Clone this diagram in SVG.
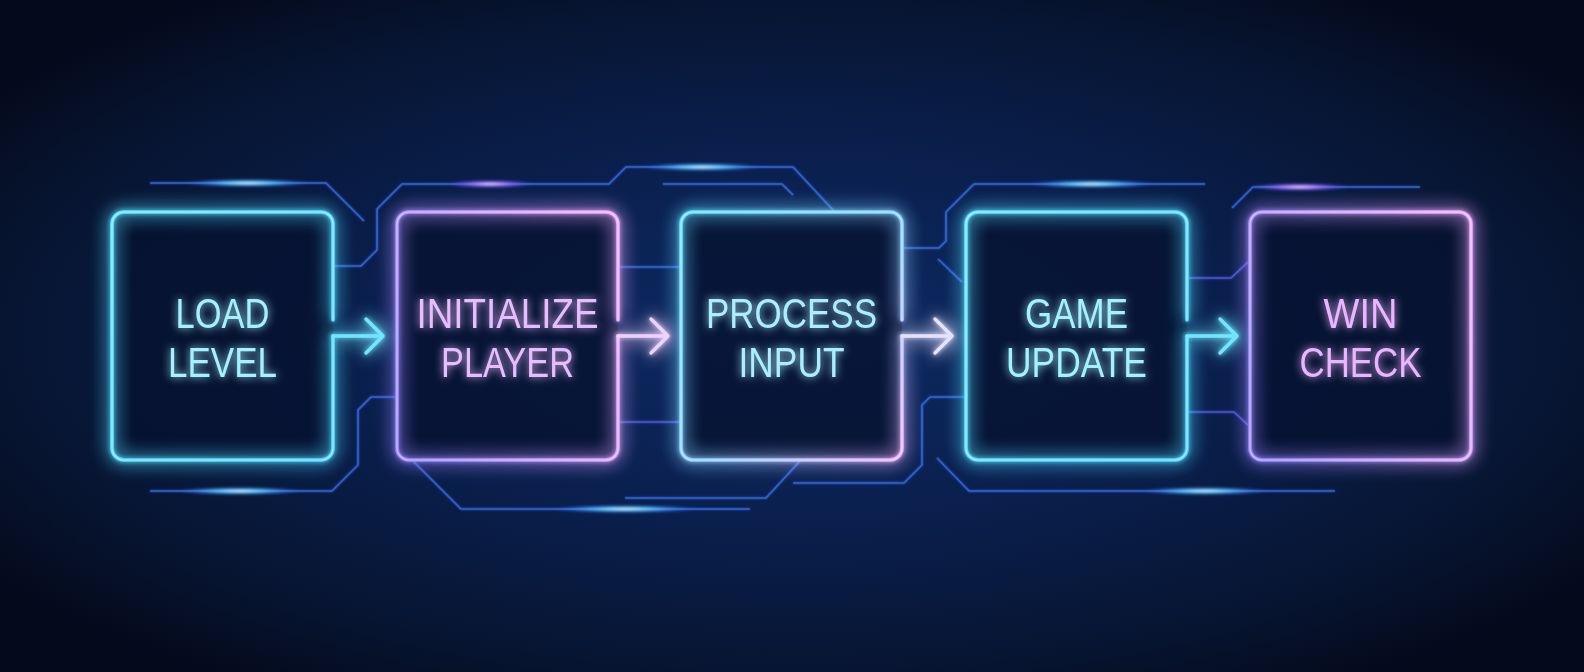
<svg xmlns="http://www.w3.org/2000/svg" width="1584" height="672" viewBox="0 0 1584 672">
<defs>
  <radialGradient id="bg" cx="0.5" cy="0.5" r="0.62">
    <stop offset="0" stop-color="#0d2a62"/>
    <stop offset="0.45" stop-color="#0a1f4d"/>
    <stop offset="0.8" stop-color="#071532"/>
    <stop offset="1" stop-color="#040a1c"/>
  </radialGradient>
  <linearGradient id="gCyan" x1="0" y1="0" x2="1" y2="1">
    <stop offset="0" stop-color="#5fe2ff"/>
    <stop offset="1" stop-color="#52d6ff"/>
  </linearGradient>
  <linearGradient id="gViolet" x1="0" y1="0.7" x2="1" y2="0.3">
    <stop offset="0" stop-color="#9a88ff"/>
    <stop offset="0.5" stop-color="#c49cff"/>
    <stop offset="1" stop-color="#eaa8ff"/>
  </linearGradient>
  <linearGradient id="gMix" x1="0" y1="0" x2="1" y2="1">
    <stop offset="0" stop-color="#62e0ff"/>
    <stop offset="0.55" stop-color="#8ccfff"/>
    <stop offset="1" stop-color="#eab0ff"/>
  </linearGradient>
  <radialGradient id="hotCyan">
    <stop offset="0" stop-color="#e8fbff"/>
    <stop offset="0.4" stop-color="#5ccaff" stop-opacity="0.9"/>
    <stop offset="1" stop-color="#2a6cff" stop-opacity="0"/>
  </radialGradient>
  <radialGradient id="hotViolet">
    <stop offset="0" stop-color="#f6e0ff"/>
    <stop offset="0.4" stop-color="#a878ff" stop-opacity="0.9"/>
    <stop offset="1" stop-color="#6040ff" stop-opacity="0"/>
  </radialGradient>
  <linearGradient id="fadeL1" gradientUnits="userSpaceOnUse" x1="140" y1="0" x2="215" y2="0">
    <stop offset="0" stop-color="#3468e0" stop-opacity="0"/>
    <stop offset="1" stop-color="#3468e0"/>
  </linearGradient>
  <linearGradient id="fadeL3" gradientUnits="userSpaceOnUse" x1="660" y1="0" x2="715" y2="0">
    <stop offset="0" stop-color="#3468e0" stop-opacity="0"/>
    <stop offset="1" stop-color="#3468e0"/>
  </linearGradient>
  <linearGradient id="fadeL6" gradientUnits="userSpaceOnUse" x1="625" y1="0" x2="690" y2="0">
    <stop offset="0" stop-color="#3468e0" stop-opacity="0"/>
    <stop offset="1" stop-color="#3468e0"/>
  </linearGradient>
  <linearGradient id="fadeR5" gradientUnits="userSpaceOnUse" x1="680" y1="0" x2="750" y2="0">
    <stop offset="0" stop-color="#3468e0"/>
    <stop offset="1" stop-color="#3468e0" stop-opacity="0"/>
  </linearGradient>
  <linearGradient id="fadeR9" gradientUnits="userSpaceOnUse" x1="1120" y1="0" x2="1205" y2="0">
    <stop offset="0" stop-color="#3468e0"/>
    <stop offset="1" stop-color="#3468e0" stop-opacity="0"/>
  </linearGradient>
  <linearGradient id="fadeR12" gradientUnits="userSpaceOnUse" x1="1250" y1="0" x2="1335" y2="0">
    <stop offset="0" stop-color="#3468e0"/>
    <stop offset="1" stop-color="#3468e0" stop-opacity="0"/>
  </linearGradient>
  <linearGradient id="fadeR15" gradientUnits="userSpaceOnUse" x1="1340" y1="0" x2="1420" y2="0">
    <stop offset="0" stop-color="#4a5ae8"/>
    <stop offset="1" stop-color="#4a5ae8" stop-opacity="0"/>
  </linearGradient>
  <filter id="neon" filterUnits="userSpaceOnUse" x="0" y="0" width="1584" height="672">
    <feGaussianBlur in="SourceGraphic" stdDeviation="2.5" result="b1"/>
    <feGaussianBlur in="SourceGraphic" stdDeviation="9" result="b2"/>
    <feMerge>
      <feMergeNode in="b2"/>
      <feMergeNode in="b2"/>
      <feMergeNode in="b1"/>
      <feMergeNode in="SourceGraphic"/>
    </feMerge>
  </filter>
  <filter id="tglow" filterUnits="userSpaceOnUse" x="0" y="0" width="1584" height="672">
    <feGaussianBlur in="SourceGraphic" stdDeviation="4" result="b"/>
    <feMerge>
      <feMergeNode in="b"/>
      <feMergeNode in="SourceGraphic"/>
    </feMerge>
  </filter>
  <filter id="soft" filterUnits="userSpaceOnUse" x="0" y="0" width="1584" height="672">
    <feGaussianBlur stdDeviation="1.5"/>
  </filter>
  <filter id="thin" filterUnits="userSpaceOnUse" x="0" y="0" width="1584" height="672">
    <feGaussianBlur in="SourceGraphic" stdDeviation="1.2" result="b"/>
    <feMerge>
      <feMergeNode in="b"/>
      <feMergeNode in="SourceGraphic"/>
    </feMerge>
  </filter>
  <style>
    .trace { fill: none; stroke: #3468e0; stroke-width: 1.6; stroke-opacity: 0.85; stroke-linejoin: round; }
    .trace-v { stroke: #5258e4; }
    .hot { filter: url(#soft); }
    .boxfill { fill: #061230; fill-opacity: 0.8; }
    .edge { fill: none; stroke-width: 3.6; stroke-linecap: round; stroke-linejoin: round; filter: url(#neon); }
    .core { fill: none; stroke: #ffffff; stroke-opacity: 0.5; stroke-width: 1.2; stroke-linecap: round; }
    .label { font-family: "Liberation Sans", Arial, sans-serif; font-size: 43px; font-weight: 400; text-anchor: middle; filter: url(#tglow); }
    .arrow { fill: none; stroke-width: 3.4; stroke-linecap: round; stroke-linejoin: round; filter: url(#neon); }
  </style>
</defs>

<rect x="0" y="0" width="1584" height="672" fill="url(#bg)"/>

<g id="circuit-traces" filter="url(#thin)">
  <path class="trace" stroke="url(#fadeL1)" d="M150,183 H326 L364,221"/>
  <path class="trace" d="M333,266 H361 L377,250 V209 L402,184 H609 L626,167 H793 L834,211"/>
  <path class="trace" stroke="url(#fadeL3)" d="M663,184 H782 L793,195"/>
  <path class="trace" stroke="url(#fadeL1)" d="M150,491 H332 L358,465 V410 L371,397 H397"/>
  <path class="trace" stroke="url(#fadeR5)" d="M413,461 L461,509 H750"/>
  <path class="trace" stroke="url(#fadeL6)" d="M800,461 L766,498 H625"/>
  <path class="trace" d="M618,267 H681"/>
  <path class="trace trace-v" d="M618,422 H681"/>
  <path class="trace" stroke="url(#fadeR9)" d="M902,248 H939 L946,241 V212 L974,184 H1205"/>
  <path class="trace" d="M938,259 L962,282"/>
  <path class="trace" d="M966,397 H930 L922,405 V465 L904,483 H793"/>
  <path class="trace" stroke="url(#fadeR12)" d="M937,458 L969,491 H1335"/>
  <path class="trace trace-v" d="M1187,278 H1231 L1248,262"/>
  <path class="trace trace-v" d="M1187,412 H1234 L1248,425"/>
  <path class="trace" stroke="url(#fadeR15)" d="M1232,208 L1253,187 H1420"/>
</g>

<g id="trace-glows">
  <ellipse class="hot" cx="248" cy="183" rx="64" ry="4" fill="url(#hotCyan)"/>
  <ellipse class="hot" cx="240" cy="491" rx="64" ry="4" fill="url(#hotCyan)"/>
  <ellipse class="hot" cx="490" cy="184" rx="44" ry="4" fill="url(#hotViolet)"/>
  <ellipse class="hot" cx="702" cy="167" rx="60" ry="4" fill="url(#hotCyan)"/>
  <ellipse class="hot" cx="625" cy="509" rx="74" ry="4" fill="url(#hotCyan)"/>
  <ellipse class="hot" cx="1092" cy="184" rx="64" ry="4" fill="url(#hotCyan)"/>
  <ellipse class="hot" cx="1300" cy="187" rx="50" ry="4" fill="url(#hotViolet)"/>
  <ellipse class="hot" cx="1205" cy="491" rx="64" ry="4" fill="url(#hotCyan)"/>
</g>

<g id="node-load-level">
  <rect class="boxfill" x="112" y="212" width="221" height="248" rx="12"/>
  <path class="edge" stroke="url(#gCyan)" d="M333,320 V224 A12,12 0 0 0 321,212 H124 A12,12 0 0 0 112,224 V448 A12,12 0 0 0 124,460 H321 A12,12 0 0 0 333,448 V336"/>
  <path class="core" d="M333,320 V224 A12,12 0 0 0 321,212 H124 A12,12 0 0 0 112,224 V448 A12,12 0 0 0 124,460 H321 A12,12 0 0 0 333,448 V336"/>
  <text class="label" fill="#a2f2ff" x="222.5" y="328" textLength="94" lengthAdjust="spacingAndGlyphs">LOAD</text>
  <text class="label" fill="#a2f2ff" x="222.5" y="376.5" textLength="109" lengthAdjust="spacingAndGlyphs">LEVEL</text>
</g>

<g id="node-initialize-player">
  <rect class="boxfill" x="397" y="212" width="221" height="248" rx="12"/>
  <path class="edge" stroke="url(#gViolet)" d="M618,320 V224 A12,12 0 0 0 606,212 H409 A12,12 0 0 0 397,224 V448 A12,12 0 0 0 409,460 H606 A12,12 0 0 0 618,448 V336"/>
  <path class="core" d="M618,320 V224 A12,12 0 0 0 606,212 H409 A12,12 0 0 0 397,224 V448 A12,12 0 0 0 409,460 H606 A12,12 0 0 0 618,448 V336"/>
  <text class="label" fill="#e8bcff" x="507.5" y="328" textLength="182" lengthAdjust="spacingAndGlyphs">INITIALIZE</text>
  <text class="label" fill="#e8bcff" x="507.5" y="376.5" textLength="133" lengthAdjust="spacingAndGlyphs">PLAYER</text>
</g>

<g id="node-process-input">
  <rect class="boxfill" x="681" y="212" width="221" height="248" rx="12"/>
  <path class="edge" stroke="url(#gMix)" d="M902,320 V224 A12,12 0 0 0 890,212 H693 A12,12 0 0 0 681,224 V448 A12,12 0 0 0 693,460 H890 A12,12 0 0 0 902,448 V336"/>
  <path class="core" d="M902,320 V224 A12,12 0 0 0 890,212 H693 A12,12 0 0 0 681,224 V448 A12,12 0 0 0 693,460 H890 A12,12 0 0 0 902,448 V336"/>
  <text class="label" fill="#aaeeff" x="791.5" y="328" textLength="171" lengthAdjust="spacingAndGlyphs">PROCESS</text>
  <text class="label" fill="#aaeeff" x="791.5" y="376.5" textLength="106" lengthAdjust="spacingAndGlyphs">INPUT</text>
</g>

<g id="node-game-update">
  <rect class="boxfill" x="966" y="212" width="221" height="248" rx="12"/>
  <path class="edge" stroke="url(#gCyan)" d="M1187,320 V224 A12,12 0 0 0 1175,212 H978 A12,12 0 0 0 966,224 V448 A12,12 0 0 0 978,460 H1175 A12,12 0 0 0 1187,448 V336"/>
  <path class="core" d="M1187,320 V224 A12,12 0 0 0 1175,212 H978 A12,12 0 0 0 966,224 V448 A12,12 0 0 0 978,460 H1175 A12,12 0 0 0 1187,448 V336"/>
  <text class="label" fill="#a2f2ff" x="1076.5" y="328" textLength="103" lengthAdjust="spacingAndGlyphs">GAME</text>
  <text class="label" fill="#a2f2ff" x="1076.5" y="376.5" textLength="141" lengthAdjust="spacingAndGlyphs">UPDATE</text>
</g>

<g id="node-win-check">
  <rect class="boxfill" x="1250" y="212" width="221" height="248" rx="12"/>
  <rect class="edge" stroke="url(#gViolet)" x="1250" y="212" width="221" height="248" rx="12"/>
  <rect class="core" x="1250" y="212" width="221" height="248" rx="12"/>
  <text class="label" fill="#ebb4ff" x="1360.5" y="328" textLength="74" lengthAdjust="spacingAndGlyphs">WIN</text>
  <text class="label" fill="#ebb4ff" x="1360.5" y="376.5" textLength="122" lengthAdjust="spacingAndGlyphs">CHECK</text>
</g>

<g id="connectors">
  <path class="arrow" stroke="#70e6ff" d="M333,336 H383 M366,319 L383,336 L366,353"/>
  <path class="arrow" stroke="#f0d2ff" d="M618,336 H668 M651,319 L668,336 L651,353"/>
  <path class="arrow" stroke="#e6e2ff" d="M902,336 H952 M935,319 L952,336 L935,353"/>
  <path class="arrow" stroke="#70e6ff" d="M1187,336 H1237 M1220,319 L1237,336 L1220,353"/>
</g>
</svg>
